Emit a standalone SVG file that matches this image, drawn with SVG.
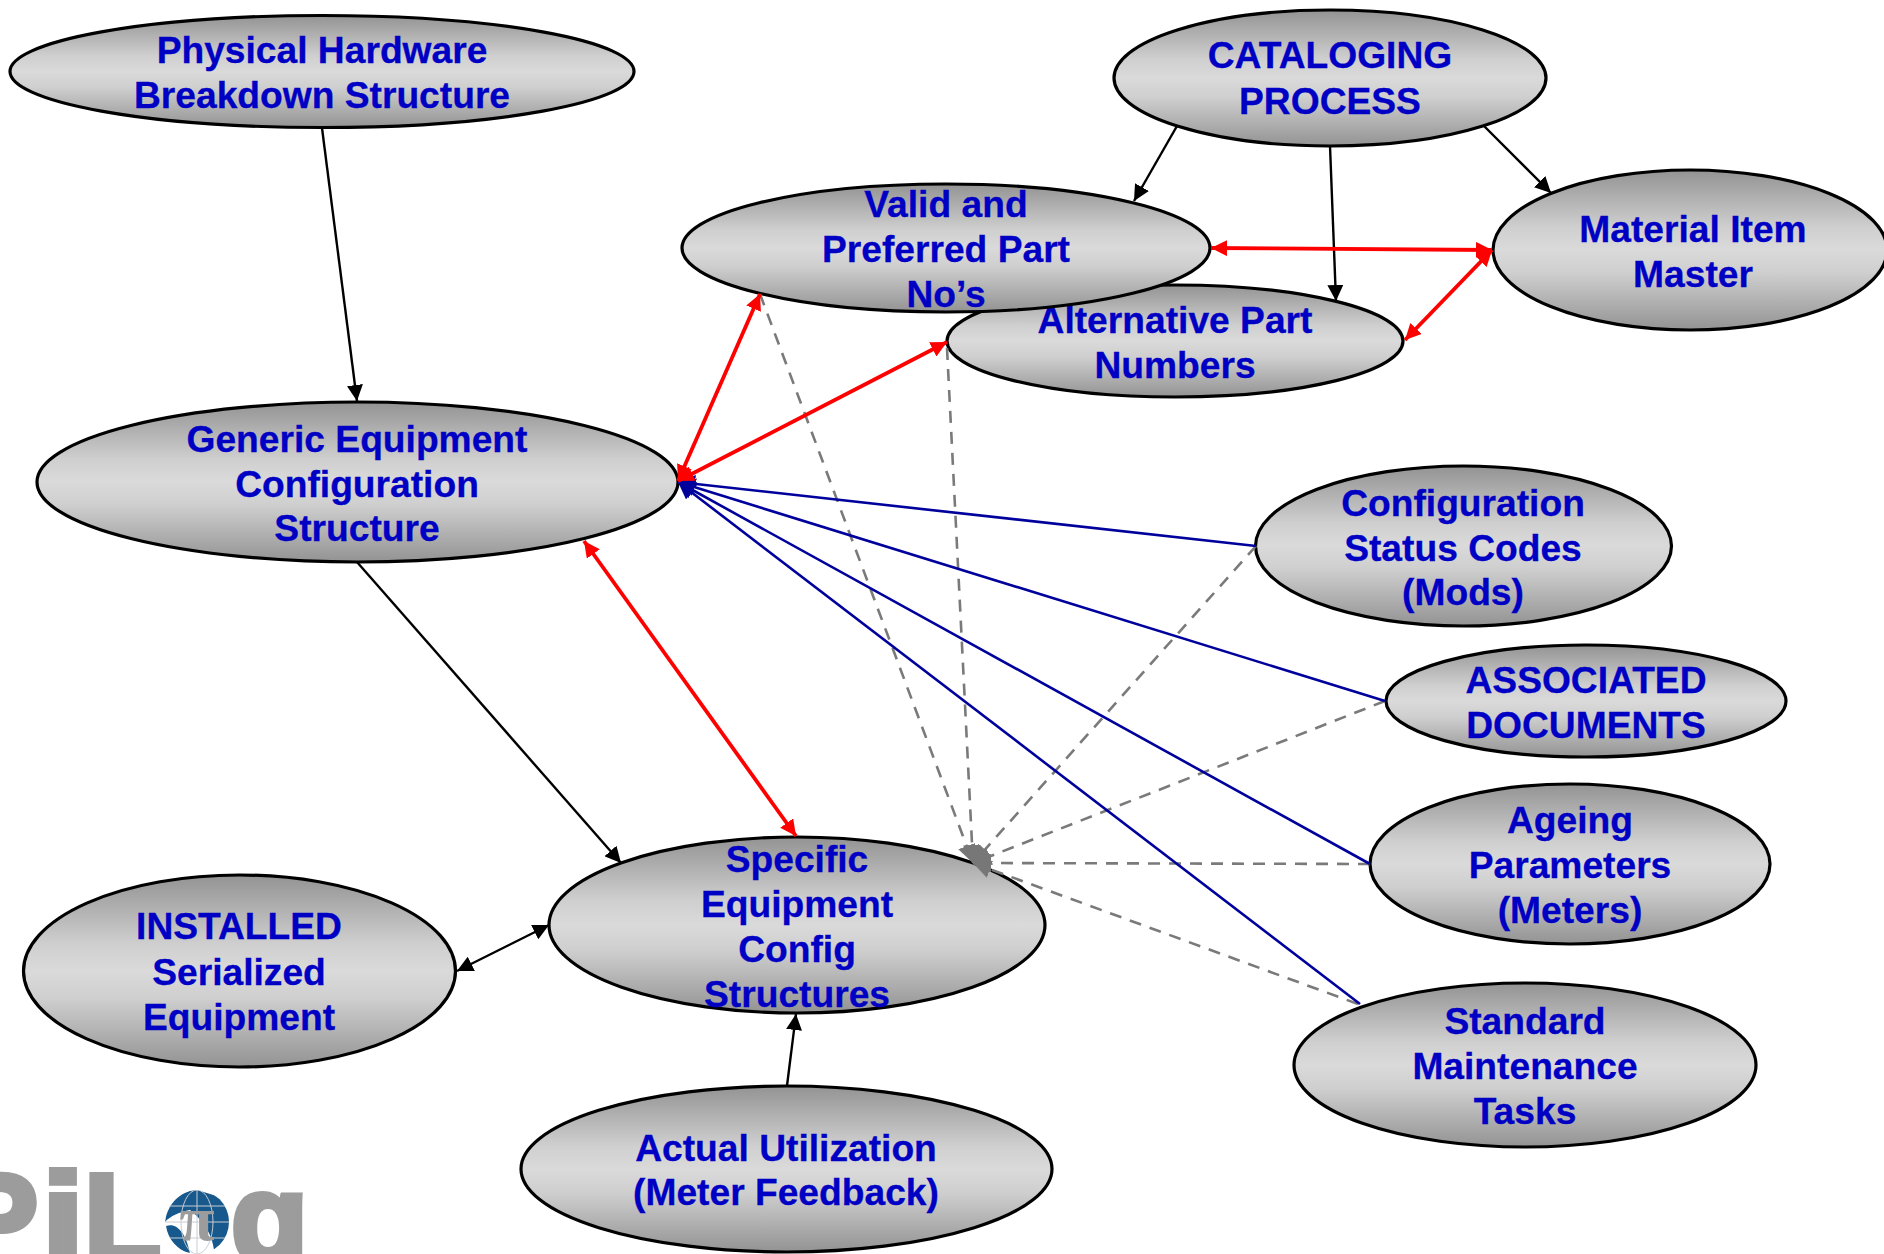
<svg xmlns="http://www.w3.org/2000/svg" width="1884" height="1254" viewBox="0 0 1884 1254">
<style>
.n ellipse{fill:url(#g);stroke:#000;stroke-width:3.2}
.n text{font:bold 37.2px "Liberation Sans",Arial,sans-serif;fill:#0000c4;stroke:#0000c4;stroke-width:.3;text-anchor:middle}
.k{stroke:#000;stroke-width:2.4;fill:none;marker-end:url(#mk)}
.kk{stroke:#000;stroke-width:2.4;fill:none;marker-end:url(#mk);marker-start:url(#mk)}
.r{stroke:#f00;stroke-width:3.8;fill:none;marker-end:url(#mr);marker-start:url(#mr)}
.b{stroke:#00009c;stroke-width:2.6;fill:none;marker-end:url(#mb)}
.d{stroke:#7a7a7a;stroke-width:2.6;stroke-dasharray:12 9;fill:none;marker-end:url(#md)}
.lg{font:bold 126px "Liberation Sans",Arial,sans-serif;fill:#9c9c9c;stroke:#9c9c9c;stroke-width:6}
</style>
<defs>
<linearGradient id="g" x1="0" y1="0" x2="0" y2="1"><stop offset="0" stop-color="#939393"/><stop offset=".36" stop-color="#cfcfcf"/><stop offset=".5" stop-color="#dadada"/><stop offset=".64" stop-color="#cfcfcf"/><stop offset="1" stop-color="#939393"/></linearGradient>
<marker id="mk" markerUnits="userSpaceOnUse" markerWidth="18" markerHeight="16" refX="16" refY="8" orient="auto-start-reverse"><path d="M0 0L16 8L0 16z" fill="#000"/></marker>
<marker id="mr" markerUnits="userSpaceOnUse" markerWidth="18" markerHeight="16" refX="16" refY="8" orient="auto-start-reverse"><path d="M0 0L16 8L0 16z" fill="#f00"/></marker>
<marker id="mb" markerUnits="userSpaceOnUse" markerWidth="20" markerHeight="18" refX="17" refY="9" orient="auto"><path d="M0 0L17 9L0 18z" fill="#00009c"/></marker>
<marker id="md" markerUnits="userSpaceOnUse" markerWidth="22" markerHeight="18" refX="18" refY="9" orient="auto"><path d="M0 0L18 9L0 18z" fill="#777"/></marker>
<clipPath id="gc"><circle cx="197" cy="1222" r="32"/></clipPath>
</defs>
<rect width="1884" height="1254" fill="#fff"/>
<g id="logo">
<text class="lg" x="-46" y="1262">P</text>
<text class="lg" x="42" y="1262" textLength="42" lengthAdjust="spacingAndGlyphs">i</text>
<text class="lg" x="84" y="1262">L</text>
<text class="lg" x="231" y="1262">g</text>
<circle cx="197" cy="1222" r="32" fill="#fff"/>
<g clip-path="url(#gc)">
<path d="M165 1222C168 1200 185 1190 197 1190L230 1200L232 1240L214 1250C212 1235 205 1222 190 1210C180 1212 170 1216 165 1222Z" fill="#17598c"/>
<path d="M166 1226C176 1222 186 1232 190 1254C178 1250 168 1240 166 1226Z" fill="#17598c"/>
<g fill="none" stroke="#c8ccd2" stroke-width="1"><ellipse cx="197" cy="1222" rx="16" ry="32"/><path d="M165 1222H229M169 1206H225M169 1238H225M197 1190V1254"/></g>
</g>
<text x="197" y="1240" style="font:bold 64px 'Liberation Serif',serif;fill:#9c9c9c;text-anchor:middle">π</text>
</g>
<g id="n-physical" class="n"><ellipse cx="322" cy="71.500" rx="312" ry="56"/><text x="322" y="63">Physical Hardware</text><text x="322" y="108">Breakdown Structure</text></g>
<g id="n-cataloging" class="n"><ellipse cx="1330" cy="78" rx="216" ry="68"/><text x="1330" y="68">CATALOGING</text><text x="1330" y="114">PROCESS</text></g>
<g id="n-alternative" class="n"><ellipse cx="1175" cy="341" rx="228" ry="56"/><text x="1175" y="333">Alternative Part</text><text x="1175" y="378">Numbers</text></g>
<g id="n-valid" class="n"><ellipse cx="946" cy="248" rx="264" ry="64"/><text x="946" y="217">Valid and</text><text x="946" y="262">Preferred Part</text><text x="946" y="307">No’s</text></g>
<g id="n-material" class="n"><ellipse cx="1690" cy="250" rx="197" ry="80"/><text x="1693" y="242">Material Item</text><text x="1693" y="287">Master</text></g>
<g id="n-generic" class="n"><ellipse cx="357.500" cy="482" rx="320.500" ry="80"/><text x="357" y="452">Generic Equipment</text><text x="357" y="497">Configuration</text><text x="357" y="541">Structure</text></g>
<g id="n-config" class="n"><ellipse cx="1463.500" cy="546" rx="208" ry="80"/><text x="1463" y="516">Configuration</text><text x="1463" y="561">Status Codes</text><text x="1463" y="605">(Mods)</text></g>
<g id="n-assoc" class="n"><ellipse cx="1586" cy="701" rx="200" ry="56"/><text x="1586" y="693">ASSOCIATED</text><text x="1586" y="738">DOCUMENTS</text></g>
<g id="n-ageing" class="n"><ellipse cx="1570" cy="864" rx="200" ry="80"/><text x="1570" y="833">Ageing</text><text x="1570" y="878">Parameters</text><text x="1570" y="923">(Meters)</text></g>
<g id="n-standard" class="n"><ellipse cx="1525" cy="1065" rx="231" ry="82"/><text x="1525" y="1034">Standard</text><text x="1525" y="1079">Maintenance</text><text x="1525" y="1124">Tasks</text></g>
<g id="n-specific" class="n"><ellipse cx="797" cy="925" rx="248" ry="88"/><text x="797" y="872">Specific</text><text x="797" y="917">Equipment</text><text x="797" y="962">Config</text><text x="797" y="1007">Structures</text></g>
<g id="n-installed" class="n"><ellipse cx="239.500" cy="971" rx="216" ry="96"/><text x="239" y="939">INSTALLED</text><text x="239" y="985">Serialized</text><text x="239" y="1030">Equipment</text></g>
<g id="n-actual" class="n"><ellipse cx="786.500" cy="1169" rx="265.500" ry="83"/><text x="786" y="1161">Actual Utilization</text><text x="786" y="1205">(Meter Feedback)</text></g>
<g id="connectors">
<path class="d" d="M760 294L973 863"/><path class="d" d="M947 348L973 863"/><path class="d" d="M1256 546L973 863"/><path class="d" d="M1385 701L973 863"/><path class="d" d="M1370 864L973 863"/><path class="d" d="M1358 1004L973 863"/>
<path class="k" d="M322 128L357 401"/><path class="k" d="M1177 126L1134 201"/><path class="k" d="M1330 146L1336 301"/><path class="k" d="M1484 126L1551 193"/>
<path class="k" d="M357 562L621 863"/><path class="kk" d="M457 971L549 925"/><path class="k" d="M787 1086L796 1014"/>
<path class="b" d="M1256 546L678 482"/><path class="b" d="M1385 701L678 482"/><path class="b" d="M1370 864L678 482"/><path class="b" d="M1360 1004L678 482"/>
<path class="r" d="M1211 248L1492 250"/><path class="r" d="M1405 340L1492 250"/><path class="r" d="M678 481L760 294"/><path class="r" d="M678 481L947 342"/><path class="r" d="M584 541L796 836"/>
</g>
</svg>
